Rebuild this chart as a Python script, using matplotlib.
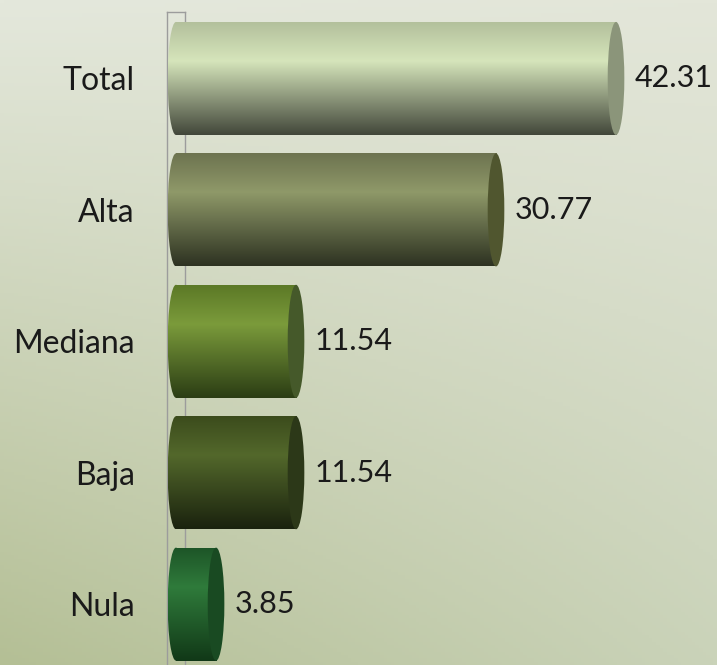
import numpy as np
import matplotlib.pyplot as plt
from matplotlib.patches import Ellipse
from matplotlib.colors import LinearSegmentedColormap

plt.rcParams['font.family'] = ['Lato', 'DejaVu Sans']

categories = ["Total", "Alta", "Mediana", "Baja", "Nula"]
values = [42.31, 30.77, 11.54, 11.54, 3.85]
value_labels = ["42.31", "30.77", "11.54", "11.54", "3.85"]

# top edge, highlight, bottom edge, end cap
bar_shades = [
    ("#b2bf9b", "#d6e5bb", "#42473a", "#8b957a"),
    ("#6c724f", "#8f9969", "#2d3221", "#50562f"),
    ("#5b7826", "#7b9b3b", "#2b3d14", "#45592a"),
    ("#3b4b1c", "#53682b", "#1a220e", "#2c3818"),
    ("#1d5427", "#2f7b3b", "#113817", "#194a22"),
]

fig = plt.figure(figsize=(7.17, 6.65), dpi=100)

# background gradient (corners: top-left, top-right, bottom-left, bottom-right)
bg = fig.add_axes([0, 0, 1, 1])
corners = np.array([[0xe4, 0xe8, 0xdc], [0xe3, 0xe6, 0xd9],
                    [0xb4, 0xbf, 0x95], [0xca, 0xd3, 0xb9]]) / 255.0
ty, tx = np.mgrid[0:1:200j, 0:1:200j]
ty = ty[..., None]
tx = tx[..., None]
grad = ((1 - ty) * ((1 - tx) * corners[0] + tx * corners[1])
        + ty * ((1 - tx) * corners[2] + tx * corners[3]))
bg.imshow(grad, extent=[0, 1, 0, 1], aspect='auto')
bg.axis('off')

ax = fig.add_axes([150 / 717, 0, 567 / 717, 1])
ax.set_facecolor('none')
ax.set_xlim(-2.5, 52.02)
ax.set_ylim(4.463, -0.597)

h = 0.86
hw = 0.8
ypos = np.arange(len(categories))

# wall edge of the 3D axis
ax.plot([-0.87, -0.87], [4.6, -0.506], color="#9c9c9c", lw=1, zorder=1)
ax.plot([0.87, 0.87], [4.6, -0.506], color="#9c9c9c", lw=1, zorder=1)
ax.plot([-0.87, 0.87], [-0.506, -0.506], color="#9c9c9c", lw=1, zorder=1)

bars = ax.barh(ypos, values, height=h, color="none", edgecolor="none", zorder=2)
column = np.linspace(0, 1, 256).reshape(-1, 1)

for i, (bar, v, shade) in enumerate(zip(bars, values, bar_shades)):
    cmap = LinearSegmentedColormap.from_list(
        "cyl", [(0, shade[0]), (0.35, shade[1]), (1, shade[2])])
    ext = (-hw, v, i + h / 2, i - h / 2)
    im = ax.imshow(column, cmap=cmap, extent=ext, aspect='auto',
                   origin='upper', zorder=3)
    im.set_clip_path(bar)
    back = Ellipse((0, i), 2 * hw, h, facecolor="none", edgecolor="none")
    ax.add_patch(back)
    im2 = ax.imshow(column, cmap=cmap, extent=ext, aspect='auto',
                    origin='upper', zorder=3)
    im2.set_clip_path(back)
    ax.add_patch(Ellipse((v, i), 2 * hw, h, facecolor=shade[3],
                         edgecolor="none", zorder=4))
    ax.text(v + hw + 1.0, i, value_labels[i], va='center', ha='left',
            fontsize=22, color="#1a1a1a")

ax.set_yticks(ypos, categories, fontsize=23, color="#1a1a1a")
ax.set_xticks([])
ax.tick_params(axis='y', length=0, pad=10.8)
for s in ax.spines.values():
    s.set_visible(False)

fig.savefig("out.png", dpi=100)
